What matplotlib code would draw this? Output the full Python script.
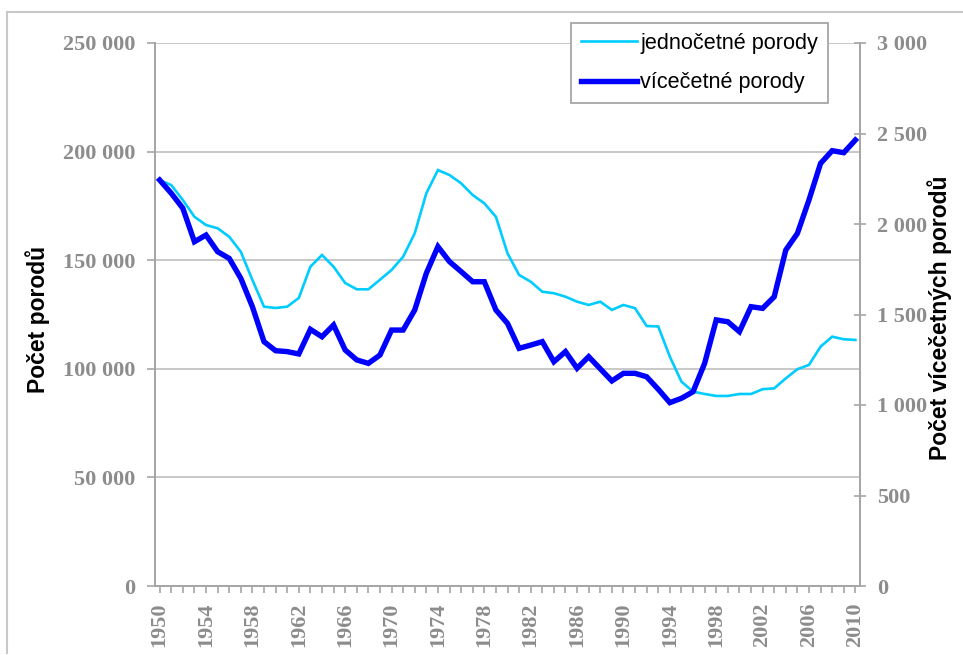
import numpy as np
import matplotlib
matplotlib.use("Agg")
import matplotlib.pyplot as plt
from matplotlib.ticker import FuncFormatter, MultipleLocator
from matplotlib.lines import Line2D

plt.rcParams['font.family'] = ['Liberation Sans', 'DejaVu Sans']

# data
years = list(range(1950, 2011))
single = [186900, 184600, 177700, 170000, 166200, 164700, 160800, 153900, 140900, 128600,
          128000, 128600, 132600, 147000, 152400, 147000, 139500, 136600, 136600, 141000,
          145500, 151600, 162400, 180800, 191500, 189200, 185400, 180000, 176200, 170000,
          153200, 143200, 140100, 135500, 134800, 133200, 130900, 129400, 130900, 127100,
          129400, 127900, 119700, 119500, 105600, 94100, 89500, 88400, 87500, 87500,
          88400, 88400, 90600, 91000, 95600, 99800, 101800, 110200, 114800, 113600, 113300]
multiple = [2243, 2170, 2087, 1902, 1939, 1847, 1810, 1700, 1543, 1350,
            1300, 1295, 1282, 1418, 1377, 1442, 1304, 1249, 1230, 1276,
            1414, 1414, 1525, 1728, 1875, 1792, 1737, 1681, 1681, 1525,
            1451, 1313, 1331, 1350, 1239, 1295, 1203, 1267, 1200, 1133,
            1175, 1175, 1156, 1087, 1013, 1037, 1073, 1230, 1470, 1460,
            1405, 1543, 1534, 1598, 1856, 1948, 2133, 2335, 2405, 2394, 2464]
label_single = 'jednočetné porody'
label_multi = 'vícečetné porody'
ylabel_left = 'Počet porodů'
ylabel_right = 'Počet vícečetných porodů'

W, H = 963, 655
fig = plt.figure(figsize=(W / 100, H / 100), dpi=100)
ax = fig.add_axes([155 / W, 1 - 586 / H, 705 / W, 543 / H])
ax2 = ax.twinx()

gray = '#8c8c8c'
axcol = '#a6a6a6'
tickfont = dict(family='Liberation Serif', weight='bold', size=16)

l1, = ax.plot(years, single, color='#00CCFF', lw=1.9, solid_joinstyle='miter')
l2, = ax2.plot(years, multiple, color='#0000FF', lw=3.9, solid_joinstyle='miter')

ax.set_xlim(1949.6, 2010.4)
ax.set_ylim(0, 250000)
ax2.set_ylim(0, 3000)

spaced = FuncFormatter(lambda v, p: f"{int(v):,}".replace(',', ' '))
ax.yaxis.set_major_locator(MultipleLocator(50000))
ax.yaxis.set_major_formatter(spaced)
ax2.yaxis.set_major_locator(MultipleLocator(500))
ax2.yaxis.set_major_formatter(spaced)

ax.set_xticks(years[::4])
ax.set_xticks(years, minor=True)

ax.yaxis.grid(True, color='#bfbfbf', lw=1.2)
ax.set_axisbelow(True)

for a in (ax, ax2):
    a.spines['top'].set_visible(False)
    for s in ('left', 'right', 'bottom'):
        a.spines[s].set_color(axcol)
        a.spines[s].set_linewidth(1.3)

ax.tick_params(axis='y', direction='out', length=6, width=1.2, color=axcol, pad=8)
ax2.tick_params(axis='y', direction='inout', length=9, width=1.2, color=axcol, pad=8)
ax.tick_params(axis='x', which='both', direction='out', length=5, width=1.2, color=axcol, pad=7)

for t in ax.get_yticklabels() + ax2.get_yticklabels():
    t.set_fontproperties(matplotlib.font_manager.FontProperties(**tickfont))
    t.set_color(gray)
for t in ax.get_xticklabels():
    t.set_fontproperties(matplotlib.font_manager.FontProperties(**tickfont))
    t.set_color(gray)
    t.set_rotation(90)

fig.text(38 / W, 1 - 319 / H, ylabel_left, rotation=90, ha='center', va='center',
         fontsize=16.5, fontweight='bold', color='black')
fig.text(940 / W, 1 - 318 / H, ylabel_right, rotation=90, ha='center', va='center',
         fontsize=16.5, fontweight='bold', color='black')

leg = fig.legend([l1, l2], [label_single, label_multi], loc='upper left',
                 bbox_to_anchor=(571 / W, 1 - 23 / H), borderaxespad=0,
                 fontsize=15.6, fancybox=False, framealpha=1, edgecolor='#a6a6a6',
                 handlelength=2.6, handletextpad=0.15, borderpad=0.45,
                 labelspacing=0.85)
leg.get_frame().set_linewidth(1.3)

# outer chart border (left and top edges visible)
fig.add_artist(Line2D([7 / W, 7 / W], [1 - 12 / H, 1 - 653 / H], color='#c8c8c8', lw=1.5))
fig.add_artist(Line2D([7 / W, 1.0], [1 - 12 / H, 1 - 12 / H], color='#c8c8c8', lw=1.5))

fig.savefig('out.png', dpi=100)
